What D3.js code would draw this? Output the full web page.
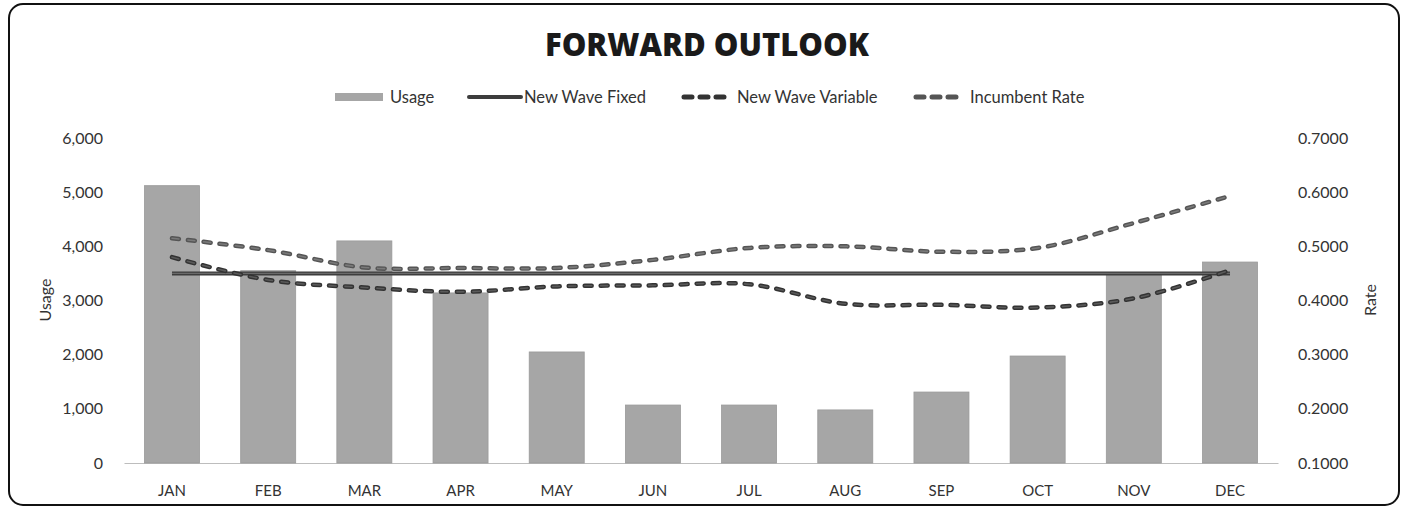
<!DOCTYPE html>
<html><head><meta charset="utf-8">
<script src="https://cdn.jsdelivr.net/npm/d3@7"></script>
<style>
html,body{margin:0;padding:0;background:#fff;}
svg{display:block;font-family:Lato,"Open Sans",sans-serif;}
</style></head>
<body><svg id="c" width="1405" height="508"></svg>
<script>
const months = ["JAN","FEB","MAR","APR","MAY","JUN","JUL","AUG","SEP","OCT","NOV","DEC"];
const usage = [5120,3550,4100,3140,2050,1070,1070,980,1310,1975,3490,3710];
const fixedRate = [0.450,0.450,0.450,0.450,0.450,0.450,0.450,0.450,0.450,0.450,0.450,0.450];
const variableRate = [0.480,0.438,0.424,0.416,0.426,0.428,0.430,0.394,0.392,0.387,0.404,0.456];
const incumbentRate = [0.515,0.493,0.461,0.460,0.460,0.475,0.497,0.500,0.490,0.497,0.543,0.593];
const usageTicks = [0,1000,2000,3000,4000,5000,6000];
const rateTicks = [0.1,0.2,0.3,0.4,0.5,0.6,0.7];
const legendLabels = ["Usage","New Wave Fixed","New Wave Variable","Incumbent Rate"];

const svg = d3.select("#c");
const pTop = 138, pBottom = 463, pLeft = 124, pRight = 1278;
const FONT = "Lato,'Open Sans',sans-serif";

svg.append("rect").attr("x",9).attr("y",4).attr("width",1390).attr("height",501)
  .attr("rx",14).attr("fill","#fff").attr("stroke","#111").attr("stroke-width",2);

svg.append("text").attr("x",707).attr("y",56).attr("text-anchor","middle")
  .attr("font-family","'Open Sans',sans-serif")
  .attr("font-size",31).attr("font-weight",800).attr("fill","#1a1a1a").text("FORWARD OUTLOOK");

const x = d3.scaleBand().domain(months).range([pLeft,pRight]).paddingInner(0.428).paddingOuter(0.213);
const yU = d3.scaleLinear().domain([0,6000]).range([pBottom,pTop]);
const yR = d3.scaleLinear().domain([0.1,0.7]).range([pBottom,pTop]);

const axL = svg.append("g").attr("transform",`translate(${pLeft},0)`)
  .call(d3.axisLeft(yU).tickValues(usageTicks).tickFormat(d3.format(",")).tickSize(0).tickPadding(21));
axL.select(".domain").remove();
const axR = svg.append("g").attr("transform",`translate(${pRight},0)`)
  .call(d3.axisRight(yR).tickValues(rateTicks).tickFormat(d3.format(".4f")).tickSize(0).tickPadding(20));
axR.select(".domain").remove();
const axB = svg.append("g").attr("transform",`translate(0,${pBottom})`)
  .call(d3.axisBottom(x).tickSize(0).tickPadding(22));
axB.select(".domain").attr("stroke","#bdbdbd").attr("stroke-width",1.2);
[axL,axR].forEach(a=>a.selectAll("text").attr("font-size",16).attr("fill","#333").attr("font-family",FONT));
axB.selectAll("text").attr("font-size",15).attr("fill","#333").attr("font-family",FONT);

svg.append("text").attr("transform","translate(51,300) rotate(-90)").attr("text-anchor","middle")
  .attr("font-size",16).attr("fill","#333").text("Usage");
svg.append("text").attr("transform","translate(1376,300) rotate(-90)").attr("text-anchor","middle")
  .attr("font-size",16).attr("fill","#333").text("Rate");

svg.append("g").selectAll("rect").data(usage).join("rect")
  .attr("x",(d,i)=>x(months[i])).attr("width",x.bandwidth())
  .attr("y",d=>yU(d)).attr("height",d=>pBottom-yU(d))
  .attr("fill","#a6a6a6").attr("stroke","#9a9a9a").attr("stroke-width",0.8);

const cx = i => x(months[i]) + x.bandwidth()/2;
const line = d3.line().x((d,i)=>cx(i)).y(d=>yR(d)).curve(d3.curveCatmullRom.alpha(0.5));

function dashed(g, data, col, inner){
  g.append("path").attr("d",line(data)).attr("fill","none").attr("stroke",col)
    .attr("stroke-width",4.5).attr("stroke-dasharray","7,9").attr("stroke-linecap","round");
  g.append("path").attr("d",line(data)).attr("fill","none").attr("stroke",inner)
    .attr("stroke-width",1.6).attr("stroke-dasharray","7,9").attr("stroke-linecap","round");
}
const lg = svg.append("g");
lg.append("path").attr("d",line(fixedRate)).attr("fill","none").attr("stroke","#3d3d3d").attr("stroke-width",4);
lg.append("path").attr("d",line(fixedRate)).attr("fill","none").attr("stroke","#6a6a6a").attr("stroke-width",1.2);
dashed(lg, incumbentRate, "#555", "#7a7a7a");
dashed(lg, variableRate, "#333", "#5a5a5a");

const ly = 97, lfs = 16.5;
const leg = svg.append("g").attr("font-size",lfs).attr("fill","#333");
leg.append("rect").attr("x",335).attr("y",ly-4).attr("width",48).attr("height",8).attr("fill","#a6a6a6");
leg.append("text").attr("x",390).attr("y",ly+6).text(legendLabels[0]);
leg.append("line").attr("x1",469).attr("x2",521).attr("y1",ly).attr("y2",ly).attr("stroke","#3d3d3d").attr("stroke-width",4).attr("stroke-linecap","round");
leg.append("text").attr("x",524).attr("y",ly+6).text(legendLabels[1]);
leg.append("line").attr("x1",684).attr("x2",724).attr("y1",ly).attr("y2",ly).attr("stroke","#333").attr("stroke-width",5)
  .attr("stroke-dasharray","8,8").attr("stroke-linecap","round");
leg.append("text").attr("x",737).attr("y",ly+6).text(legendLabels[2]);
leg.append("line").attr("x1",916).attr("x2",956).attr("y1",ly).attr("y2",ly).attr("stroke","#555").attr("stroke-width",5)
  .attr("stroke-dasharray","8,8").attr("stroke-linecap","round");
leg.append("text").attr("x",970).attr("y",ly+6).text(legendLabels[3]);
</script></body></html>
